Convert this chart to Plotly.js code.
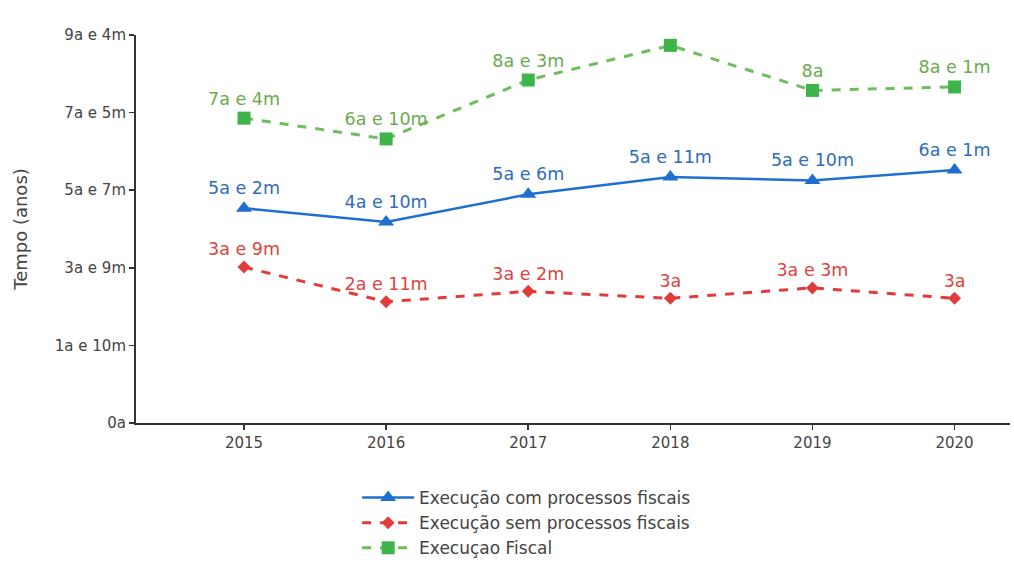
<!DOCTYPE html>
<html>
<head>
<meta charset="utf-8">
<script src="https://cdn.plot.ly/plotly-3.0.1.min.js"></script>
<style>
html,body{margin:0;padding:0;background:#fff;}
#chart{width:1014px;height:563px;}
</style>
</head>
<body>
<div id="chart"></div>
<script>
// Data (years as decimal; labels as shown)
const years = [2015, 2016, 2017, 2018, 2019, 2020];
const comProcessos = [5 + 2/12, 4 + 10/12, 5 + 6/12, 5 + 11/12, 5 + 10/12, 6 + 1/12];
const comLabels = ['5a e 2m', '4a e 10m', '5a e 6m', '5a e 11m', '5a e 10m', '6a e 1m'];
const semProcessos = [3 + 9/12, 2 + 11/12, 3 + 2/12, 3, 3 + 3/12, 3];
const semLabels = ['3a e 9m', '2a e 11m', '3a e 2m', '3a', '3a e 3m', '3a'];
const fiscal = [7 + 4/12, 6 + 10/12, 8 + 3/12, 9 + 1/12, 8, 8 + 1/12];
const fiscalLabels = ['7a e 4m', '6a e 10m', '8a e 3m', '9a e 1m', '8a', '8a e 1m'];
const yTickVals = [0, 22.4/12, 44.8/12, 67.2/12, 89.6/12, 112/12];
const yTickText = ['0a', '1a e 10m', '3a e 9m', '5a e 7m', '7a e 5m', '9a e 4m'];
const seriesNames = ['Execução com processos fiscais', 'Execução sem processos fiscais', 'Execuçao Fiscal'];

const FONT = '"DejaVu Sans", sans-serif';

const traces = [
  {
    x: years, y: comProcessos, text: comLabels, name: seriesNames[0],
    type: 'scatter', mode: 'lines+markers+text', textposition: 'top center',
    line: {color: '#1f6fd0', width: 2.5},
    marker: {symbol: 'triangle-up', size: 14, color: '#1f6fd0'},
    textfont: {family: FONT, size: 17.5, color: '#2f6db8'}
  },
  {
    x: years, y: semProcessos, text: semLabels, name: seriesNames[1],
    type: 'scatter', mode: 'lines+markers+text', textposition: 'top center',
    line: {color: '#e23b3b', width: 3, dash: 'dash'},
    marker: {symbol: 'diamond', size: 10, color: '#e23b3b'},
    textfont: {family: FONT, size: 17.5, color: '#dc4440'}
  },
  {
    x: years, y: fiscal, text: fiscalLabels, name: seriesNames[2],
    type: 'scatter', mode: 'lines+markers+text', textposition: 'top center',
    line: {color: '#6cbf5c', width: 3, dash: 'dash'},
    marker: {symbol: 'square', size: 13, color: '#3db54a'},
    textfont: {family: FONT, size: 17.5, color: '#6aab4e'}
  }
];

const layout = {
  width: 1014, height: 563,
  margin: {l: 136, r: 4, t: 35, b: 140, autoexpand: false},
  paper_bgcolor: '#fff', plot_bgcolor: '#fff',
  font: {family: FONT, color: '#444', size: 15},
  showlegend: true,
  legend: {
    x: 0.253, xanchor: 'left', y: -0.147, yanchor: 'top',
    orientation: 'v', font: {family: FONT, size: 17, color: '#444'},
    tracegroupgap: 0, itemwidth: 52
  },
  xaxis: {
    range: [2014.24, 2020.39],
    tickmode: 'array', tickvals: years, ticktext: years.map(String),
    showgrid: false, zeroline: false,
    showline: true, linecolor: '#333', linewidth: 2,
    ticks: 'outside', ticklen: 5, tickcolor: '#333', tickwidth: 1.5,
    tickfont: {family: FONT, size: 15, color: '#444'}
  },
  yaxis: {
    range: [0, 112/12],
    tickmode: 'array', tickvals: yTickVals, ticktext: yTickText,
    showgrid: false, zeroline: false,
    showline: true, linecolor: '#333', linewidth: 2,
    ticks: 'outside', ticklen: 5, tickcolor: '#333', tickwidth: 1.5,
    tickfont: {family: FONT, size: 15, color: '#444'},
    title: {text: 'Tempo (anos)', font: {family: FONT, size: 18, color: '#444'}, standoff: 22}
  }
};

Plotly.newPlot('chart', traces, layout, {displayModeBar: false, staticPlot: true});
</script>
</body>
</html>
